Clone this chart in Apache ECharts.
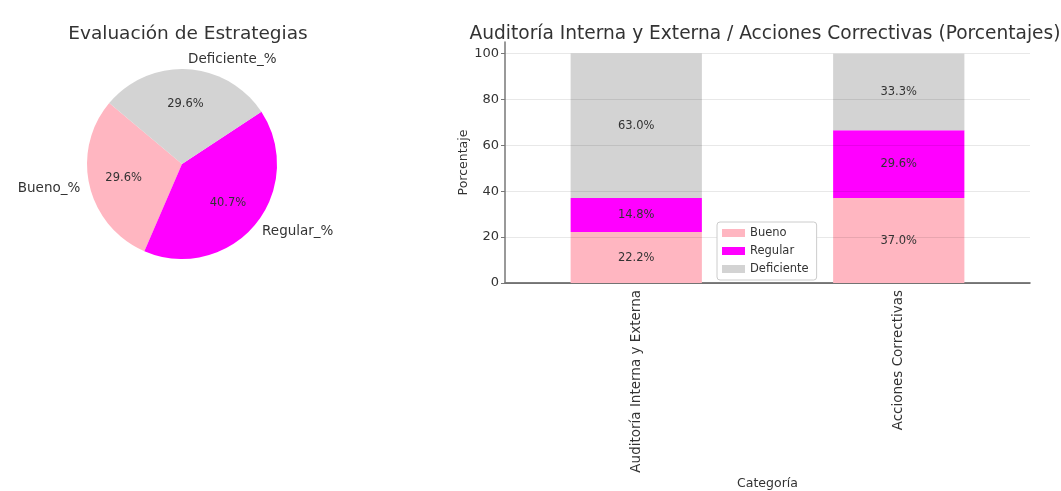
<!DOCTYPE html>
<html>
<head>
<meta charset="utf-8">
<script src="https://cdn.jsdelivr.net/npm/echarts@6/dist/echarts.min.js"></script>
<style>
  html, body { margin: 0; padding: 0; background: #fff; }
  #main { width: 1061px; height: 491px; }
</style>
</head>
<body>
<div id="main"></div>
<script>
// datos
var pieNames = ['Bueno_%', 'Regular_%', 'Deficiente_%'];
var pieValues = [29.6, 40.7, 29.6];
var pieColors = ['#ffb6c1', '#ff00ff', '#d3d3d3'];

var categories = ['Auditoría Interna y Externa', 'Acciones Correctivas'];
var bueno = [22.2, 37.0];
var regular = [14.8, 29.6];
var deficiente = [63.0, 33.3];
var yTicks = [0, 20, 40, 60, 80, 100];

var font = 'DejaVu Sans';
var txt = '#333';

var myChart = echarts.init(document.getElementById('main'));

var pieData = pieNames.map(function (n, i) {
  return {name: n, value: pieValues[i], itemStyle: {color: pieColors[i]}};
});
var pieLabelData = pieNames.map(function (n, i) {
  return {name: n, value: pieValues[i], itemStyle: {color: 'rgba(0,0,0,0)'}};
});

function pct(p) {
  return p.value.toFixed(1) + '%';
}

var option = {
  backgroundColor: '#fff',
  animation: false,
  textStyle: {fontFamily: font},
  title: [
    {
      text: 'Evaluación de Estrategias',
      left: 183, top: 20, textAlign: 'center',
      textStyle: {fontFamily: font, fontSize: 18.5, fontWeight: 'normal', color: txt}
    },
    {
      text: 'Auditoría Interna y Externa / Acciones Correctivas (Porcentajes)',
      left: 760, top: 20, textAlign: 'center',
      textStyle: {fontFamily: font, fontSize: 18.6, fontWeight: 'normal', color: txt}
    }
  ],
  legend: {
    orient: 'vertical',
    left: 717, top: 222,
    padding: [5, 8, 5, 5],
    itemWidth: 23, itemHeight: 8, itemGap: 6,
    backgroundColor: '#fff',
    borderColor: '#ccc', borderWidth: 1, borderRadius: 3,
    icon: 'rect',
    textStyle: {fontFamily: font, fontSize: 11.5, color: txt},
    data: ['Bueno', 'Regular', 'Deficiente']
  },
  grid: {left: 505, right: 31, top: 42, bottom: 208, outerBoundsMode: 'none'},
  xAxis: {
    type: 'category',
    data: categories,
    name: 'Categoría',
    nameLocation: 'middle',
    nameGap: 194,
    nameTextStyle: {fontFamily: font, fontSize: 12.5, color: txt},
    axisLine: {lineStyle: {color: '#555', width: 1.5}},
    axisTick: {alignWithLabel: true, length: 4, lineStyle: {color: '#555'}},
    axisLabel: {rotate: 90, margin: 7, fontFamily: font, fontSize: 13.5, color: txt}
  },
  yAxis: {
    type: 'value',
    min: 0, max: 105, interval: 20,
    z: 3,
    name: 'Porcentaje',
    nameLocation: 'middle',
    nameGap: 35,
    nameTextStyle: {fontFamily: font, fontSize: 12.5, color: txt},
    axisLine: {show: true, lineStyle: {color: '#777', width: 1.5}},
    axisTick: {show: true, length: 4, lineStyle: {color: '#777'}},
    axisLabel: {
      showMaxLabel: false, margin: 6, fontFamily: font, fontSize: 13, color: txt,
      formatter: function (v) { return yTicks.indexOf(v) >= 0 ? v : ''; }
    },
    splitLine: {show: true, showMaxLine: false, lineStyle: {color: 'rgba(0,0,0,0.09)', width: 1}}
  },
  series: [
    {
      type: 'pie',
      center: [182, 164],
      radius: [0, 95],
      startAngle: 140,
      clockwise: false,
      avoidLabelOverlap: false,
      silent: true,
      label: {
        position: 'outside',
        distanceToLabelLine: 0,
        fontFamily: font, fontSize: 13.5, color: txt,
        formatter: '{b}'
      },
      labelLine: {show: false, length: 9.5, length2: 0},
      data: pieData
    },
    {
      type: 'pie',
      center: [182, 164],
      radius: [0, 114],
      startAngle: 140,
      clockwise: false,
      avoidLabelOverlap: false,
      silent: true,
      z: 3,
      label: {
        position: 'inside',
        fontFamily: font, fontSize: 11.5, color: txt,
        formatter: pct
      },
      labelLine: {show: false},
      data: pieLabelData
    },
    {
      name: 'Bueno', type: 'bar', stack: 'total', barWidth: '50%',
      itemStyle: {color: pieColors[0]},
      label: {show: true, position: 'inside', fontFamily: font, fontSize: 11.5, color: txt, formatter: pct},
      data: bueno
    },
    {
      name: 'Regular', type: 'bar', stack: 'total', barWidth: '50%',
      itemStyle: {color: pieColors[1]},
      label: {show: true, position: 'inside', fontFamily: font, fontSize: 11.5, color: txt, formatter: pct},
      data: regular
    },
    {
      name: 'Deficiente', type: 'bar', stack: 'total', barWidth: '50%',
      itemStyle: {color: pieColors[2]},
      label: {show: true, position: 'inside', fontFamily: font, fontSize: 11.5, color: txt, formatter: pct},
      data: deficiente
    }
  ]
};

myChart.setOption(option);
</script>
</body>
</html>
